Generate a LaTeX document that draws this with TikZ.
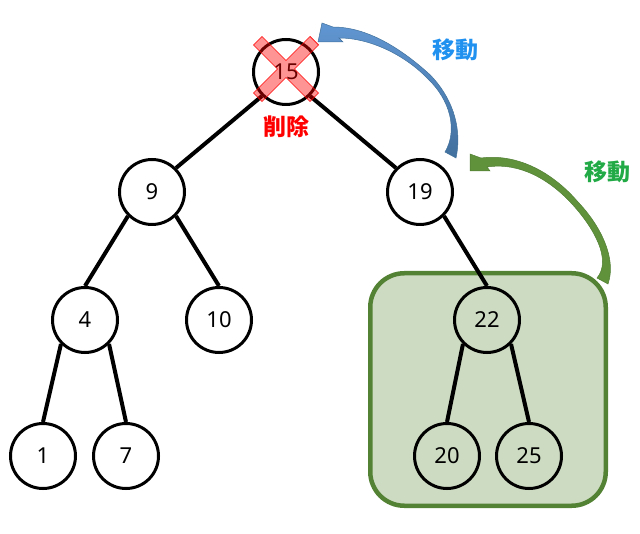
\documentclass[tikz,border=0pt]{standalone}
\usepackage{fontspec}
\setmainfont{Noto Sans}
\newfontfamily\jp{Noto Sans CJK JP}
\usetikzlibrary{arrows.meta}
\definecolor{boxfill}{RGB}{205,219,194}
\definecolor{boxline}{RGB}{84,130,53}
\definecolor{bluetop}{RGB}{96,150,210}
\definecolor{bluebot}{RGB}{66,112,158}
\definecolor{bluearrowline}{RGB}{65,113,156}
\definecolor{greenarrow}{RGB}{96,146,60}
\definecolor{greenarrowline}{RGB}{80,126,50}
\definecolor{bluetext}{RGB}{33,145,240}
\definecolor{greentext}{RGB}{34,170,70}
\begin{document}
\begin{tikzpicture}[x=1pt,y=-1pt,
  vtx/.style={circle,draw=black,line width=3pt,minimum size=65pt,inner sep=0pt,font=\fontsize{22}{26}\selectfont},
  edge/.style={line width=4pt,black},
  grpbox/.style={draw=boxline,fill=boxfill,line width=4.5pt,rounded corners=34pt,minimum width=235.5pt,minimum height=232.5pt},
  jplabel/.style={font=\jp\bfseries\fontsize{23}{27}\selectfont},
  ]
\useasboundingbox (0,0) rectangle (640,534);
\node[grpbox] (grp) at (488,389.5) {};
% vertices
\node[vtx] (n15) at (286,72) {15};
\node[vtx] (n9) at (152,192) {9};
\node[vtx] (n19) at (420,192) {19};
\node[vtx] (n4) at (85,320) {4};
\node[vtx] (n10) at (219,320) {10};
\node[vtx] (n22) at (487,320) {22};
\node[vtx] (n1) at (43,456) {1};
\node[vtx] (n7) at (126,456) {7};
\node[vtx] (n20) at (447,456) {20};
\node[vtx] (n25) at (529,456) {25};
% edges
\draw[edge] (n15.south west) -- (n9.north east);
\draw[edge] (n15.south east) -- (n19.north west);
\draw[edge] (n9.south west) -- (n4.north);
\draw[edge] (n9.south east) -- (n10.north);
\draw[edge] (n19.south east) -- (n22.north);
\draw[edge] (n4.south west) -- (n1.north);
\draw[edge] (n4.south east) -- (n7.north);
\draw[edge] (n22.south west) -- (n20.north);
\draw[edge] (n22.south east) -- (n25.north);
% red cross
\begin{scope}[shift={(286,69)},rotate=45]
\path[fill=red,fill opacity=0.42,draw=red,line width=0.6pt]
  (40,6) -- (40,-6) -- (6,-6) -- (6,-40) -- (-6,-40) -- (-6,-6) -- (-40,-6) -- (-40,6)
  -- (-6,6) -- (-6,40) -- (6,40) -- (6,6) -- cycle;
\end{scope}
% blue curved arrow
\path[top color=bluetop,bottom color=bluebot,draw=bluearrowline,line width=0.5pt]
  (445,152) -- (456,158)
  .. controls (463,125) and (450,95) .. (430,74.7)
  .. controls (405,52) and (370,27) .. (333,27)
  -- (322,23) -- (318,42) -- (343,42) -- (339,38)
  .. controls (370,38) and (405,55) .. (428,79)
  .. controls (450,100) and (458,130) .. (445,152) -- cycle;
% green curved arrow
\path[fill=greenarrow,draw=greenarrowline,line width=0.5pt]
  (597,278) -- (608,284)
  .. controls (617,258) and (600,225) .. (578,202)
  .. controls (555,175) and (520,153) .. (481,158)
  -- (470,154) -- (470,171) -- (490,171) -- (487,167)
  .. controls (520,162) and (550,180) .. (572,204)
  .. controls (594,228) and (612,260) .. (597,278) -- cycle;
% labels
\node[jplabel,text=red] (del) at (286,127) {削除};
\node[jplabel,text=bluetext] (mv1) at (455,50) {移動};
\node[jplabel,text=greentext] (mv2) at (607,172) {移動};
\end{tikzpicture}
\end{document}
